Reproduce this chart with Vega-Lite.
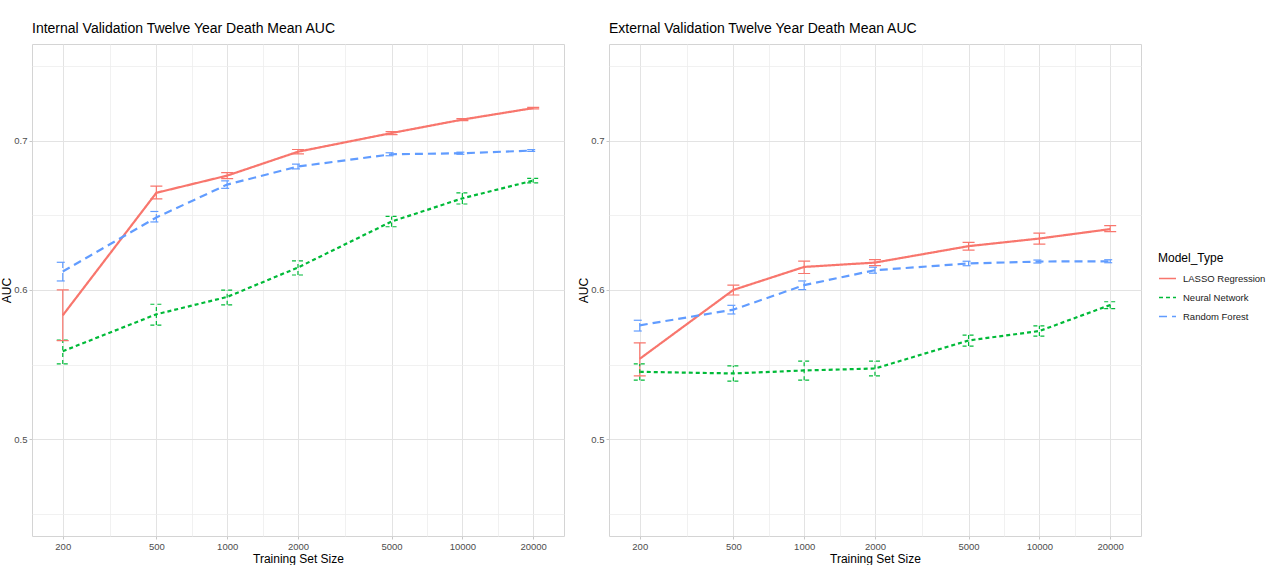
{
  "$schema": "https://vega.github.io/schema/vega-lite/v6.json",
  "padding": {"left": 0, "top": 21, "right": 0, "bottom": 0},
  "background": "white",
  "datasets": {
    "auc": [
      {"panel": "Internal", "Model_Type": "LASSO Regression", "size": 200, "auc": 0.583, "lo": 0.566, "hi": 0.600},
      {"panel": "Internal", "Model_Type": "LASSO Regression", "size": 500, "auc": 0.665, "lo": 0.661, "hi": 0.6695},
      {"panel": "Internal", "Model_Type": "LASSO Regression", "size": 1000, "auc": 0.6765, "lo": 0.6745, "hi": 0.6785},
      {"panel": "Internal", "Model_Type": "LASSO Regression", "size": 2000, "auc": 0.6925, "lo": 0.691, "hi": 0.694},
      {"panel": "Internal", "Model_Type": "LASSO Regression", "size": 5000, "auc": 0.705, "lo": 0.704, "hi": 0.706},
      {"panel": "Internal", "Model_Type": "LASSO Regression", "size": 10000, "auc": 0.714, "lo": 0.7133, "hi": 0.7147},
      {"panel": "Internal", "Model_Type": "LASSO Regression", "size": 20000, "auc": 0.7217, "lo": 0.7212, "hi": 0.7222},
      {"panel": "Internal", "Model_Type": "Random Forest", "size": 200, "auc": 0.6123, "lo": 0.606, "hi": 0.6185},
      {"panel": "Internal", "Model_Type": "Random Forest", "size": 500, "auc": 0.6485, "lo": 0.6455, "hi": 0.6525},
      {"panel": "Internal", "Model_Type": "Random Forest", "size": 1000, "auc": 0.6705, "lo": 0.668, "hi": 0.673},
      {"panel": "Internal", "Model_Type": "Random Forest", "size": 2000, "auc": 0.6826, "lo": 0.681, "hi": 0.6842},
      {"panel": "Internal", "Model_Type": "Random Forest", "size": 5000, "auc": 0.6908, "lo": 0.6898, "hi": 0.6918},
      {"panel": "Internal", "Model_Type": "Random Forest", "size": 10000, "auc": 0.6915, "lo": 0.6908, "hi": 0.6922},
      {"panel": "Internal", "Model_Type": "Random Forest", "size": 20000, "auc": 0.6933, "lo": 0.6927, "hi": 0.6939},
      {"panel": "Internal", "Model_Type": "Neural Network", "size": 200, "auc": 0.559, "lo": 0.5505, "hi": 0.5664},
      {"panel": "Internal", "Model_Type": "Neural Network", "size": 500, "auc": 0.5837, "lo": 0.5765, "hi": 0.5904},
      {"panel": "Internal", "Model_Type": "Neural Network", "size": 1000, "auc": 0.5953, "lo": 0.59, "hi": 0.5998},
      {"panel": "Internal", "Model_Type": "Neural Network", "size": 2000, "auc": 0.615, "lo": 0.610, "hi": 0.6195},
      {"panel": "Internal", "Model_Type": "Neural Network", "size": 5000, "auc": 0.6458, "lo": 0.6423, "hi": 0.6492},
      {"panel": "Internal", "Model_Type": "Neural Network", "size": 10000, "auc": 0.6613, "lo": 0.6575, "hi": 0.665},
      {"panel": "Internal", "Model_Type": "Neural Network", "size": 20000, "auc": 0.6732, "lo": 0.6717, "hi": 0.6747},
      {"panel": "External", "Model_Type": "LASSO Regression", "size": 200, "auc": 0.5539, "lo": 0.5425, "hi": 0.5646},
      {"panel": "External", "Model_Type": "LASSO Regression", "size": 500, "auc": 0.600, "lo": 0.5966, "hi": 0.6032},
      {"panel": "External", "Model_Type": "LASSO Regression", "size": 1000, "auc": 0.6154, "lo": 0.611, "hi": 0.6193},
      {"panel": "External", "Model_Type": "LASSO Regression", "size": 2000, "auc": 0.6183, "lo": 0.6163, "hi": 0.6203},
      {"panel": "External", "Model_Type": "LASSO Regression", "size": 5000, "auc": 0.6293, "lo": 0.6267, "hi": 0.6318},
      {"panel": "External", "Model_Type": "LASSO Regression", "size": 10000, "auc": 0.6344, "lo": 0.6307, "hi": 0.638},
      {"panel": "External", "Model_Type": "LASSO Regression", "size": 20000, "auc": 0.6407, "lo": 0.639, "hi": 0.643},
      {"panel": "External", "Model_Type": "Random Forest", "size": 200, "auc": 0.5763, "lo": 0.5725, "hi": 0.5797},
      {"panel": "External", "Model_Type": "Random Forest", "size": 500, "auc": 0.5868, "lo": 0.5839, "hi": 0.5897},
      {"panel": "External", "Model_Type": "Random Forest", "size": 1000, "auc": 0.6032, "lo": 0.6002, "hi": 0.606},
      {"panel": "External", "Model_Type": "Random Forest", "size": 2000, "auc": 0.6132, "lo": 0.6112, "hi": 0.6152},
      {"panel": "External", "Model_Type": "Random Forest", "size": 5000, "auc": 0.6177, "lo": 0.6162, "hi": 0.6192},
      {"panel": "External", "Model_Type": "Random Forest", "size": 10000, "auc": 0.619, "lo": 0.618, "hi": 0.62},
      {"panel": "External", "Model_Type": "Random Forest", "size": 20000, "auc": 0.6192, "lo": 0.6182, "hi": 0.6202},
      {"panel": "External", "Model_Type": "Neural Network", "size": 200, "auc": 0.5452, "lo": 0.5396, "hi": 0.5505},
      {"panel": "External", "Model_Type": "Neural Network", "size": 500, "auc": 0.5441, "lo": 0.5389, "hi": 0.5492},
      {"panel": "External", "Model_Type": "Neural Network", "size": 1000, "auc": 0.5461, "lo": 0.5396, "hi": 0.5523},
      {"panel": "External", "Model_Type": "Neural Network", "size": 2000, "auc": 0.5474, "lo": 0.5425, "hi": 0.5523},
      {"panel": "External", "Model_Type": "Neural Network", "size": 5000, "auc": 0.5662, "lo": 0.5624, "hi": 0.5698},
      {"panel": "External", "Model_Type": "Neural Network", "size": 10000, "auc": 0.5725, "lo": 0.5691, "hi": 0.576},
      {"panel": "External", "Model_Type": "Neural Network", "size": 20000, "auc": 0.5899, "lo": 0.5875, "hi": 0.5921}
    ]
  },
  "spacing": 12,
  "hconcat": [
    {
      "title": {"text": "Internal Validation Twelve Year Death Mean AUC"},
      "width": 532,
      "height": 492,
      "data": {"name": "auc"},
      "transform": [{"filter": "datum.panel === 'Internal'"}],
      "encoding": {
        "x": {"field": "size", "type": "quantitative", "title": "Training Set Size",
          "scale": {"type": "log", "domain": [148, 27040], "nice": false},
          "axis": {"values": [200, 316.23, 500, 707.11, 1000, 1414.21, 2000, 3162.28, 5000, 7071.07, 10000, 14142.14, 20000]}},
        "color": {"field": "Model_Type", "type": "nominal", "title": "Model_Type",
          "scale": {"domain": ["LASSO Regression", "Neural Network", "Random Forest"], "range": ["#F8766D", "#00BA38", "#619CFF"]}},
        "strokeDash": {"field": "Model_Type", "type": "nominal", "title": "Model_Type",
          "scale": {"domain": ["LASSO Regression", "Neural Network", "Random Forest"], "range": [[1, 0], [4, 3], [8, 5]]}}
      },
      "layer": [
        {"mark": {"type": "line", "strokeWidth": 2.2},
          "encoding": {"y": {"field": "auc", "type": "quantitative", "title": "AUC", "scale": {"domain": [0.4353, 0.7646], "nice": false, "zero": false},
            "axis": {"values": [0.45, 0.5, 0.55, 0.6, 0.65, 0.7, 0.75]}}}},
        {"mark": {"type": "rule", "strokeWidth": 1.2},
          "encoding": {"y": {"field": "lo", "type": "quantitative"}, "y2": {"field": "hi"}}},
        {"mark": {"type": "rule", "strokeWidth": 1.2, "xOffset": -6, "x2Offset": 6},
          "encoding": {"x2": {"field": "size"}, "y": {"field": "hi", "type": "quantitative"}}},
        {"mark": {"type": "rule", "strokeWidth": 1.2, "xOffset": -6, "x2Offset": 6},
          "encoding": {"x2": {"field": "size"}, "y": {"field": "lo", "type": "quantitative"}}}
      ]
    },
    {
      "title": {"text": "External Validation Twelve Year Death Mean AUC"},
      "width": 532,
      "height": 492,
      "data": {"name": "auc"},
      "transform": [{"filter": "datum.panel === 'External'"}],
      "encoding": {
        "x": {"field": "size", "type": "quantitative", "title": "Training Set Size",
          "scale": {"type": "log", "domain": [148, 27040], "nice": false},
          "axis": {"values": [200, 316.23, 500, 707.11, 1000, 1414.21, 2000, 3162.28, 5000, 7071.07, 10000, 14142.14, 20000]}},
        "color": {"field": "Model_Type", "type": "nominal", "title": "Model_Type",
          "scale": {"domain": ["LASSO Regression", "Neural Network", "Random Forest"], "range": ["#F8766D", "#00BA38", "#619CFF"]}},
        "strokeDash": {"field": "Model_Type", "type": "nominal", "title": "Model_Type",
          "scale": {"domain": ["LASSO Regression", "Neural Network", "Random Forest"], "range": [[1, 0], [4, 3], [8, 5]]}}
      },
      "layer": [
        {"mark": {"type": "line", "strokeWidth": 2.2},
          "encoding": {"y": {"field": "auc", "type": "quantitative", "title": "AUC", "scale": {"domain": [0.4353, 0.7646], "nice": false, "zero": false},
            "axis": {"values": [0.45, 0.5, 0.55, 0.6, 0.65, 0.7, 0.75]}}}},
        {"mark": {"type": "rule", "strokeWidth": 1.2},
          "encoding": {"y": {"field": "lo", "type": "quantitative"}, "y2": {"field": "hi"}}},
        {"mark": {"type": "rule", "strokeWidth": 1.2, "xOffset": -6, "x2Offset": 6},
          "encoding": {"x2": {"field": "size"}, "y": {"field": "hi", "type": "quantitative"}}},
        {"mark": {"type": "rule", "strokeWidth": 1.2, "xOffset": -6, "x2Offset": 6},
          "encoding": {"x2": {"field": "size"}, "y": {"field": "lo", "type": "quantitative"}}}
      ]
    }
  ],
  "resolve": {"scale": {"y": "independent", "x": "independent"}, "axis": {"y": "independent", "x": "independent"}},
  "config": {
    "font": "Liberation Sans",
    "view": {"stroke": "#D4D4D4", "strokeWidth": 1},
    "title": {"anchor": "start", "frame": "group", "fontSize": 14, "fontWeight": "normal", "color": "#000000", "font": "Liberation Sans", "baseline": "alphabetic", "offset": 8},
    "axisX": {
      "format": "d",
      "labelExpr": "indexof([200,500,1000,2000,5000,10000,20000], datum.value) >= 0 ? datum.label : ''",
      "tickOpacity": {"condition": {"test": "indexof([200,500,1000,2000,5000,10000,20000], datum.value) < 0", "value": 0}, "value": 1},
      "gridWidth": {"condition": {"test": "indexof([200,500,1000,2000,5000,10000,20000], datum.value) < 0", "value": 0.8}, "value": 1},
      "gridColor": {"condition": {"test": "indexof([200,500,1000,2000,5000,10000,20000], datum.value) < 0", "value": "#EEEEEE"}, "value": "#E3E3E3"},
      "labelFlush": false,
      "labelOverlap": false
    },
    "axisY": {
      "format": ".1f",
      "labelExpr": "indexof([0.5,0.6,0.7], datum.value) >= 0 ? datum.label : ''",
      "tickOpacity": {"condition": {"test": "indexof([0.5,0.6,0.7], datum.value) < 0", "value": 0}, "value": 1},
      "gridWidth": {"condition": {"test": "indexof([0.5,0.6,0.7], datum.value) < 0", "value": 0.8}, "value": 1},
      "gridColor": {"condition": {"test": "indexof([0.5,0.6,0.7], datum.value) < 0", "value": "#EEEEEE"}, "value": "#E3E3E3"},
      "labelFlush": false,
      "labelOverlap": false,
      "titlePadding": 0
    },
    "axis": {
      "domain": false,
      "grid": true,
      "tickColor": "#C8C8C8",
      "tickSize": 3,
      "labelPadding": 2,
      "labelFont": "Liberation Sans",
      "labelFontSize": 9.5,
      "labelColor": "#4D4D4D",
      "titleFont": "Liberation Sans",
      "titleFontSize": 12,
      "titleFontWeight": "normal",
      "titleColor": "#000000",
      "titlePadding": 3
    },
    "legend": {
      "orient": "none",
      "legendX": 1126,
      "legendY": 209,
      "titleFont": "Liberation Sans",
      "titleFontSize": 12,
      "titleFontWeight": "normal",
      "titleColor": "#000000",
      "titlePadding": 4,
      "labelFont": "Liberation Sans",
      "labelFontSize": 9.5,
      "labelColor": "#1A1A1A",
      "symbolType": "stroke",
      "symbolSize": 289,
      "symbolStrokeWidth": 1.6,
      "rowPadding": 5,
      "labelOffset": 6,
      "padding": 0
    }
  }
}
